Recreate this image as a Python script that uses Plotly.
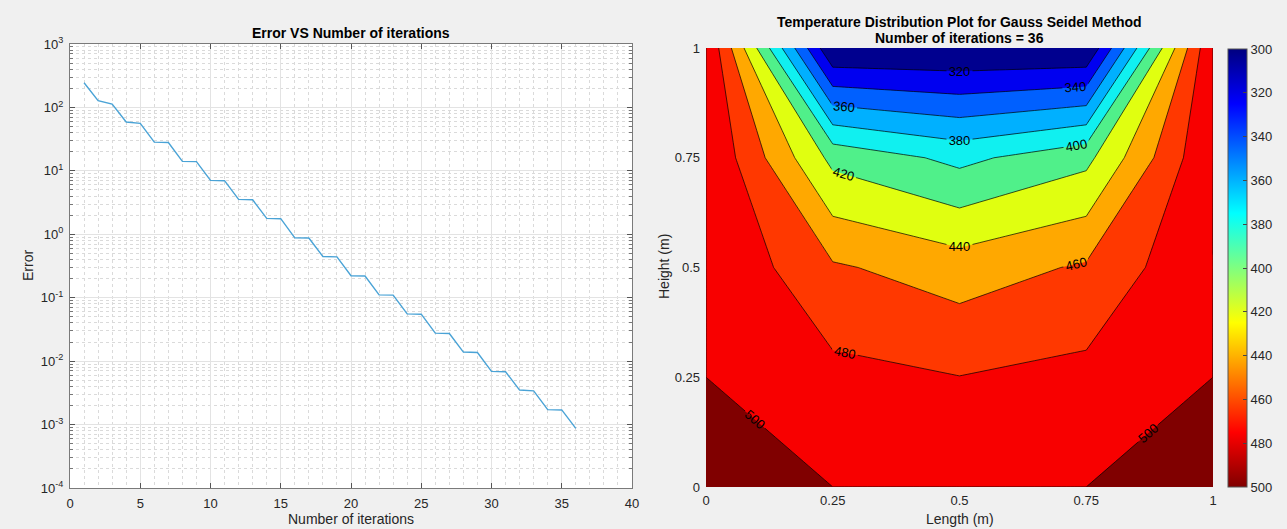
import plotly.graph_objects as go

# ---------------- data ----------------
iterations = list(range(1, 37))
error_vals = [245, 128, 113, 59, 56, 28.4, 28, 14.1, 14, 7.08, 7.0, 3.55, 3.5, 1.78, 1.76,
              0.88, 0.875, 0.446, 0.44, 0.222, 0.22, 0.111, 0.11, 0.0555, 0.055, 0.0277,
              0.0273, 0.0139, 0.0137, 0.0069, 0.0068, 0.0035, 0.0034, 0.00172, 0.0017, 0.00087]

length_m = [0, 0.25, 0.5, 0.75, 1]
height_m = [0, 0.25, 0.5, 0.75, 1]
# temperature rows, from y = 0 (bottom) to y = 1 (top)
temp_row_y0 = [500, 500, 500, 500, 500]
temp_row_y025 = [500, 485.71, 480.36, 485.71, 500]
temp_row_y05 = [500, 462.5, 450.0, 462.5, 500]
temp_row_y075 = [500, 414.29, 394.64, 414.29, 500]
temp_row_y1 = [500, 300, 300, 300, 500]
temperature = [temp_row_y0, temp_row_y025, temp_row_y05, temp_row_y075, temp_row_y1]

log_tick_vals = [1e-4, 1e-3, 1e-2, 1e-1, 1e0, 1e1, 1e2, 1e3]
log_tick_text = ["10<sup>-4</sup>", "10<sup>-3</sup>", "10<sup>-2</sup>", "10<sup>-1</sup>",
                 "10<sup>0</sup>", "10<sup>1</sup>", "10<sup>2</sup>", "10<sup>3</sup>"]
iter_tick_vals = [0, 5, 10, 15, 20, 25, 30, 35, 40]
len_tick_vals = [0, 0.25, 0.5, 0.75, 1]
len_tick_text = ["0", "0.25", "0.5", "0.75", "1"]
cbar_levels = [300, 320, 340, 360, 380, 400, 420, 440, 460, 480, 500]

# band colours (below 300, 300-320, ..., 480-500, above 500)
band_colors = ["#00008f", "#00008f", "#0000f0", "#0060ff", "#00b0ff", "#10f0f0",
               "#50f08a", "#e0ff10", "#ffa800", "#ff3800", "#f80000", "#800000"]

W, H = 1287, 529
ML, MR, MT, MB = 20, 50, 20, 20
X0, X1 = ML, W - MR
Y0, Y1 = MT, H - MB
FONT = "Liberation Sans, Arial, Helvetica, sans-serif"
TXT = "#262626"

def px_x(p):
    return (p - X0) / (X1 - X0)

def px_y(p):
    return 1 - (p - Y0) / (Y1 - Y0)

fig = go.Figure()

# ---------------- left: error curve ----------------
fig.add_trace(go.Scatter(
    x=iterations, y=error_vals, mode="lines",
    line=dict(color="#4aa3d6", width=1.4),
    xaxis="x", yaxis="y", showlegend=False))

# ---------------- right: contour ----------------
n_b = len(band_colors)
colorscale = [[i / (n_b - 1), c] for i, c in enumerate(band_colors)]
fig.add_trace(go.Contour(
    x=length_m, y=height_m, z=temperature,
    xaxis="x2", yaxis="y2",
    colorscale=colorscale, showscale=False,
    contours=dict(start=299.99, end=499.99, size=20, coloring="fill",
                  showlabels=True, labelformat=".0f",
                  labelfont=dict(family=FONT, size=13, color="black")),
    line=dict(color="black", width=0.7, smoothing=0),
    hoverinfo="skip"))

# helper trace that only provides the continuous colour bar (reversed direction)
flat_x = [xv for row in temperature for xv in length_m]
flat_y = [yv for yv in height_m for _ in length_m]
flat_c = [-v for row in temperature for v in row]
jet_rev = [[0.0, "rgb(128,0,0)"], [0.125, "rgb(255,0,0)"], [0.375, "rgb(255,255,0)"],
           [0.625, "rgb(0,255,255)"], [0.875, "rgb(0,0,255)"], [1.0, "rgb(0,0,128)"]]
fig.add_trace(go.Scatter(
    x=flat_x, y=flat_y, mode="markers", xaxis="x2", yaxis="y2",
    marker=dict(size=1, opacity=0, color=flat_c, cmin=-500, cmax=-300,
                colorscale=jet_rev, showscale=True,
                colorbar=dict(
                    x=px_x(1228), xanchor="left", y=px_y(268), yanchor="middle",
                    xpad=0, ypad=0,
                    thickness=19, thicknessmode="pixels", len=438, lenmode="pixels",
                    outlinecolor="#555", outlinewidth=1,
                    tickvals=[-v for v in cbar_levels], ticktext=[str(v) for v in cbar_levels],
                    ticks="inside", ticklen=4, tickcolor="#444",
                    tickfont=dict(family=FONT, size=13, color=TXT))),
    hoverinfo="skip", showlegend=False))

axis_font = dict(family=FONT, size=13, color=TXT)

fig.update_layout(
    width=W, height=H,
    margin=dict(l=ML, r=MR, t=MT, b=MB, autoexpand=False),
    paper_bgcolor="#f0f0f0",
    plot_bgcolor="white",
    showlegend=False,
    xaxis=dict(
        domain=[px_x(70), px_x(632)], range=[0, 40], anchor="y",
        tickmode="array", tickvals=iter_tick_vals,
        ticks="inside", ticklen=5, tickcolor="#555",
        showline=True, linecolor="#7a7a7a", linewidth=1, mirror="ticks",
        showgrid=True, gridcolor="#e3e3e3", gridwidth=1, zeroline=False,
        minor=dict(dtick=1, showgrid=True, gridcolor="#dadada", griddash="dot", ticks=""),
        tickfont=axis_font, ticklabelstandoff=3),
    yaxis=dict(
        domain=[px_y(488), px_y(44)], type="log", range=[-4, 3], anchor="x",
        tickmode="array", tickvals=log_tick_vals, ticktext=log_tick_text,
        ticks="inside", ticklen=5, tickcolor="#555",
        showline=True, linecolor="#7a7a7a", linewidth=1, mirror="ticks",
        showgrid=True, gridcolor="#e3e3e3", gridwidth=1, zeroline=False,
        minor=dict(dtick="D1", showgrid=True, gridcolor="#dadada", griddash="dot",
                   ticks="inside", ticklen=3, tickcolor="#777"),
        tickfont=axis_font, ticklabelstandoff=3),
    xaxis2=dict(
        domain=[px_x(706), px_x(1213)], range=[0, 1], anchor="y2",
        tickmode="array", tickvals=len_tick_vals, ticktext=len_tick_text,
        ticks="", showgrid=False, zeroline=False, showline=False,
        tickfont=axis_font, ticklabelstandoff=4),
    yaxis2=dict(
        domain=[px_y(487), px_y(48)], range=[0, 1], anchor="x2",
        tickmode="array", tickvals=len_tick_vals, ticktext=len_tick_text,
        ticks="", showgrid=False, zeroline=False, showline=False,
        tickfont=axis_font, ticklabelstandoff=5),
)

ann = []
def add_text(text, xp, yp, size=14, bold=False, angle=0):
    ann.append(dict(text=("<b>%s</b>" % text) if bold else text,
                    x=px_x(xp), y=px_y(yp), xref="paper", yref="paper",
                    xanchor="center", yanchor="middle", showarrow=False,
                    textangle=angle, font=dict(family=FONT, size=size, color="black" if bold else TXT)))

add_text("Error VS Number of iterations", 351, 33, 14, True)
add_text("Temperature Distribution Plot for Gauss Seidel Method", 960, 22, 14, True)
add_text("Number of iterations = 36", 960, 38, 14, True)
add_text("Number of iterations", 351, 519, 14)
add_text("Length (m)", 960, 519, 14)
add_text("Error", 28, 266, 14, angle=-90)
add_text("Height (m)", 664, 267, 14, angle=-90)
fig.update_layout(annotations=ann)

fig.write_html("out.html")
